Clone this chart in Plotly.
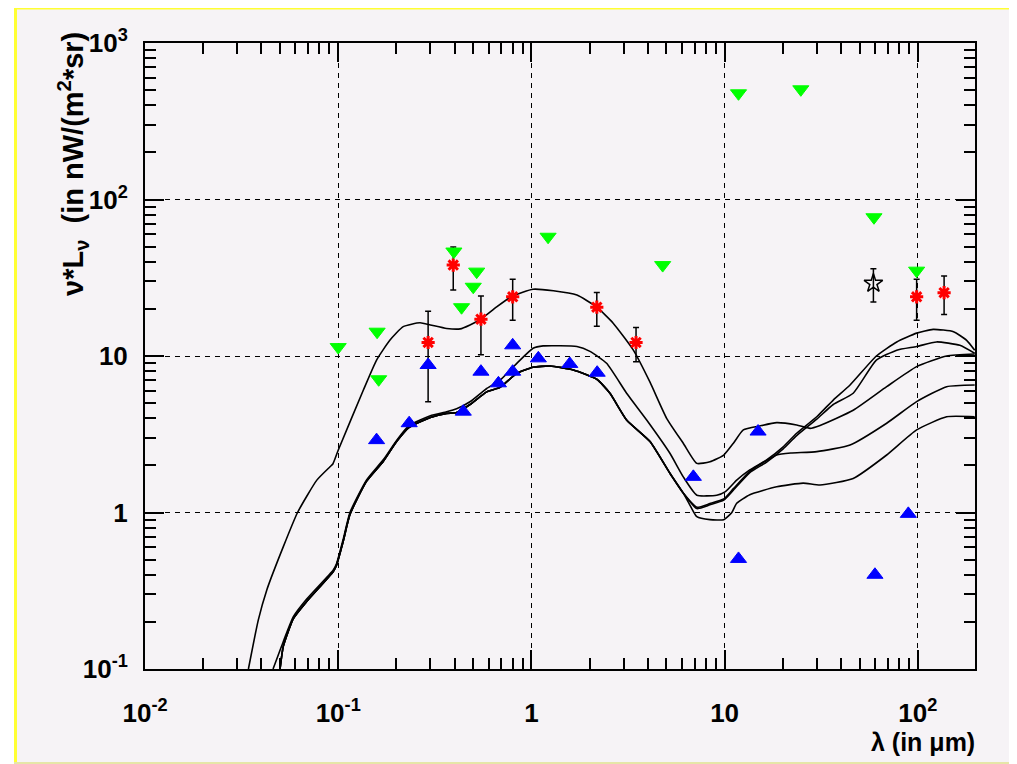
import plotly.graph_objects as go

# ---------------- data ----------------
# model curve A (high UV)
a_x = [0.0343, 0.0386, 0.0427, 0.052, 0.0616, 0.0775, 0.0907, 0.094, 0.1, 0.135, 0.158, 0.185, 0.217,
       0.265, 0.30, 0.364, 0.428, 0.481, 0.548, 0.661, 0.80, 1.02, 1.30, 1.72, 2.18, 2.65, 3.37, 4.11,
       5.01, 6.11, 7.18, 8.40, 9.9, 11.1, 12.5, 15.2, 18.6, 23.6, 27.7, 31.2, 46.3, 69, 98.6, 141, 197]
a_y = [0.1, 0.206, 0.32, 0.605, 1.0, 1.61, 1.96, 2.05, 2.5, 6.06, 9.42, 12.6, 15.4,
       16.3, 15.8, 15.0, 14.9, 15.8, 17.2, 20.6, 24.2, 26.7, 26.1, 24.5, 20.5, 16.2, 10.9, 6.8,
       4.0, 2.77, 2.06, 2.11, 2.33, 2.77, 3.37, 3.57, 3.75, 3.62, 3.45, 3.6, 4.5, 6.37, 8.55, 10.0, 10.3]

# model curve U (upper of the UV pair)
u_x = [0.046, 0.052, 0.0586, 0.0687, 0.0943, 0.098, 0.106, 0.115, 0.140, 0.171, 0.201, 0.233, 0.30,
       0.364, 0.41, 0.481, 0.587, 0.688, 0.85, 1.02, 1.15, 1.72, 2.01, 2.45, 3.11, 3.95, 5.21, 6.11,
       7.18, 9.1, 10.1, 11.55, 13.5, 16.5, 20.1, 23.6, 30, 36.5, 44.6, 61, 77.8, 98.6, 120, 153, 179, 197]
u_y = [0.1, 0.15, 0.216, 0.28, 0.43, 0.47, 0.67, 1.0, 1.61, 2.17, 2.90, 3.6, 4.15,
       4.4, 4.6, 5.1, 6.2, 7.0, 9.1, 11.2, 11.6, 11.5, 10.7, 8.98, 5.78, 3.9, 2.39, 1.69,
       1.29, 1.29, 1.36, 1.61, 1.87, 2.17, 2.63, 3.21, 4.09, 5.23, 6.53, 10.0, 12.3, 14.0, 14.8, 14.3, 12.6, 10.9]

# shared UV part of the lower curves
l_uv_x = [0.05, 0.052, 0.0586, 0.0687, 0.0943, 0.098, 0.106, 0.115, 0.140, 0.171, 0.201, 0.233, 0.30,
          0.364, 0.41, 0.481, 0.587, 0.688, 0.839, 1.02, 1.25, 1.65, 2.18, 2.55, 3.11, 4.11, 5.21, 6.11]
l_uv_y = [0.1, 0.14, 0.21, 0.27, 0.42, 0.46, 0.65, 0.97, 1.58, 2.12, 2.85, 3.5, 4.05,
          4.3, 4.35, 4.9, 5.9, 6.3, 7.74, 8.47, 8.63, 8.14, 7.1, 5.78, 3.9, 2.84, 1.78, 1.33]

# infrared parts of the lower curves
l1_ir_x = [7.18, 8.40, 9.9, 11.1, 13.5, 16.5, 20.1, 23.6, 30, 36.5, 46.3, 61, 77.8, 98.6, 125, 165, 197]
l1_ir_y = [1.06, 1.12, 1.20, 1.39, 1.8, 2.1, 2.55, 3.1, 3.95, 4.9, 5.78, 9.4, 10.9, 11.5, 12.3, 11.7, 10.4]
l2_ir_x = [7.18, 8.4, 9.9, 11.1, 13.5, 16.5, 18.6, 22, 30, 44.6, 69, 98.6, 141, 197]
l2_ir_y = [1.08, 1.14, 1.22, 1.42, 1.83, 2.15, 2.33, 2.4, 2.45, 2.70, 3.72, 5.11, 6.37, 6.53]
l3_ir_x = [6.6, 7.18, 8.4, 9.9, 10.9, 11.55, 13.5, 18.6, 25.5, 31.2, 46.3, 69, 98.6, 141, 197]
l3_ir_y = [1.12, 0.94, 0.9, 0.9, 1.0, 1.145, 1.3, 1.46, 1.54, 1.5, 1.65, 2.33, 3.37, 4.09, 4.09]

# upper limits (green)
up_lim_x = [0.1, 0.159, 0.162, 0.397, 0.435, 0.500, 0.521, 1.22, 4.78, 11.8, 24.8, 59.3, 98.6]
up_lim_y = [11.4, 14.3, 7.1, 46.5, 20.5, 27.7, 34.6, 57.8, 38.1, 477, 506, 77, 35.1]

# lower limits (blue)
low_lim_x = [0.158, 0.233, 0.292, 0.444, 0.548, 0.675, 0.80, 0.80, 1.086, 1.58, 2.19, 6.89, 11.8, 14.9, 60, 89.3]
low_lim_y = [2.90, 3.72, 8.76, 4.41, 7.94, 6.69, 11.7, 7.94, 9.66, 8.9, 7.82, 1.69, 0.505, 3.29, 0.40, 0.98]

# measurements (red) with errors
meas_x = [0.292, 0.394, 0.548, 0.80, 2.18, 3.48, 98.6, 136.8]
meas_y = [12.2, 38.1, 17.2, 23.9, 20.5, 12.2, 23.9, 25.4]
meas_err = [7.1, 11.7, 7.0, 7.0, 5.0, 3.0, 7.0, 7.0]

# single measurement (black open star)
star_x = [58.9]
star_y = [29.1]
star_err = [7.0]

x_tickvals = [0.01, 0.1, 1, 10, 100]
x_ticktext = ["10<sup>-2</sup>", "10<sup>-1</sup>", "1", "10", "10<sup>2</sup>"]
y_tickvals = [0.1, 1, 10, 100, 1000]
y_ticktext = ["10<sup>-1</sup>", "1", "10", "10<sup>2</sup>", "10<sup>3</sup>"]

# ---------------- figure ----------------
OFF = 8                       # default page margin of the html body
W, H = 1017 - OFF, 764 - OFF
ML, MT = 145 - OFF, 43 - OFF
MR = W - (975 - OFF)
MB = H - (669 - OFF)
PW, PH = W - ML - MR, H - MT - MB


def pxx(p):
    """screen x pixel -> paper coordinate"""
    return (p - OFF - ML) / PW


def pxy(p):
    """screen y pixel -> paper coordinate"""
    return (H - MB - (p - OFF)) / PH


FONT = "Liberation Sans"
BG = "#f6f3f6"

fig = go.Figure()

curve_line = dict(color="black", width=1.6, shape="spline", smoothing=0.5)
curves = [
    (a_x, a_y),
    (u_x, u_y),
    (l_uv_x + l1_ir_x, l_uv_y + l1_ir_y),
    (l_uv_x + l2_ir_x, l_uv_y + l2_ir_y),
    (l_uv_x + l3_ir_x, l_uv_y + l3_ir_y),
]
for cx, cy in curves:
    fig.add_trace(go.Scatter(x=cx, y=cy, mode="lines", line=curve_line,
                             hoverinfo="skip", showlegend=False))

fig.add_trace(go.Scatter(
    x=meas_x, y=meas_y, mode="markers",
    marker=dict(symbol="asterisk-open", size=11, color="red", line=dict(color="red", width=3)),
    error_y=dict(type="data", array=meas_err, color="black", thickness=1.5, width=3),
    showlegend=False))

fig.add_trace(go.Scatter(
    x=star_x, y=star_y, mode="markers",
    marker=dict(symbol="star-open", size=14, color="black", line=dict(color="black", width=1.5)),
    error_y=dict(type="data", array=star_err, color="black", thickness=1.5, width=3),
    showlegend=False))

fig.add_trace(go.Scatter(
    x=low_lim_x, y=low_lim_y, mode="markers",
    marker=dict(symbol="triangle-up", size=14, color="#0000ff", line=dict(color="#0000ff", width=1)),
    showlegend=False))

fig.add_trace(go.Scatter(
    x=up_lim_x, y=up_lim_y, mode="markers",
    marker=dict(symbol="triangle-down", size=14, color="#00ff00", line=dict(color="#00ff00", width=1)),
    showlegend=False))

axis_common = dict(
    type="log",
    ticks="inside", ticklen=19, tickwidth=1.5, tickcolor="black",
    showline=True, linecolor="black", linewidth=2, mirror="allticks",
    showgrid=True, gridcolor="black", gridwidth=1, griddash="5px,5px",
    zeroline=False,
    tickfont=dict(family=FONT, size=26, color="black", weight="bold"),
    minor=dict(ticks="inside", ticklen=11, tickwidth=1.5, tickcolor="black",
               dtick="D1", showgrid=False),
)

fig.update_xaxes(range=[-2, 2.296], tickmode="array", tickvals=x_tickvals, ticktext=x_ticktext,
                 ticklabelstandoff=20, **axis_common)
fig.update_yaxes(range=[-1, 3], tickmode="array", tickvals=y_tickvals, ticktext=y_ticktext,
                 ticklabelstandoff=10, **axis_common)

shapes = [
    dict(type="rect", xref="paper", yref="paper", x0=pxx(16), x1=pxx(1030), y0=pxy(762), y1=pxy(9),
         fillcolor=BG, line=dict(width=0), layer="below"),
    dict(type="line", xref="paper", yref="paper", x0=pxx(14), x1=pxx(1030), y0=pxy(8), y1=pxy(8),
         line=dict(color="#ffff33", width=3), layer="below"),
    dict(type="line", xref="paper", yref="paper", x0=pxx(15.5), x1=pxx(15.5), y0=pxy(763), y1=pxy(6.5),
         line=dict(color="#ffff33", width=3), layer="below"),
    dict(type="line", xref="paper", yref="paper", x0=pxx(14), x1=pxx(1030), y0=pxy(763), y1=pxy(763),
         line=dict(color="#e6e6a8", width=2), layer="below"),
]

annotations = [
    dict(text="λ (in μm)", xref="paper", yref="paper", x=pxx(977), y=pxy(742),
         xanchor="right", yanchor="middle", showarrow=False,
         font=dict(family=FONT, size=25, color="black", weight="bold")),
    dict(text="ν*L<sub>ν</sub>  (in nW/(m<sup>2</sup>*sr)", xref="paper", yref="paper",
         x=pxx(73), y=pxy(30), xanchor="center", yanchor="top", textangle=-90, showarrow=False,
         font=dict(family=FONT, size=29, color="black", weight="bold")),
]

fig.update_layout(
    width=W, height=H,
    margin=dict(l=ML, r=MR, t=MT, b=MB),
    paper_bgcolor="white", plot_bgcolor=BG,
    shapes=shapes, annotations=annotations,
    showlegend=False,
)

fig.write_html("out.html")
